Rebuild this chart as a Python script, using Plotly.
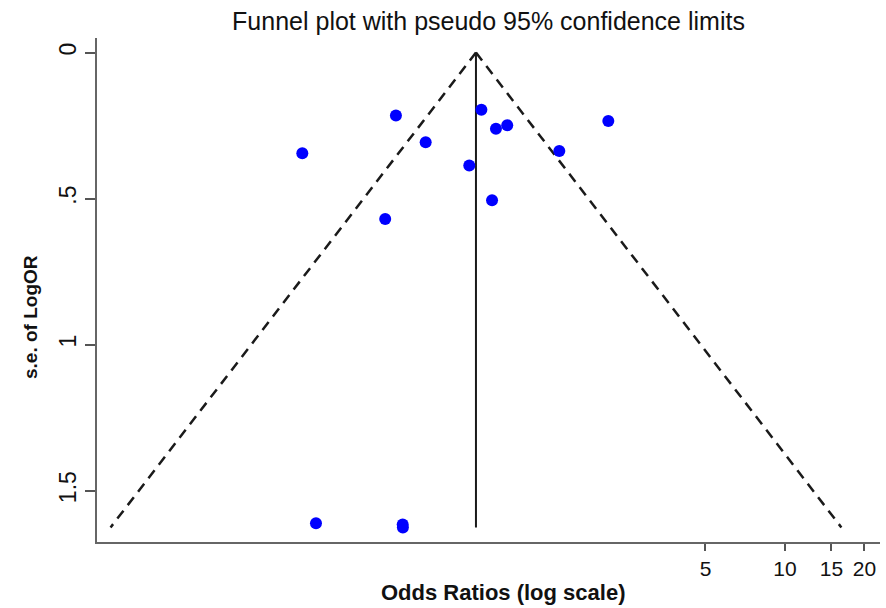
import numpy as np
import plotly.graph_objects as go

# Study estimates (odds ratios) and standard errors of log OR
odds_ratios = [0.1485, 0.336, 0.4355, 0.637, 0.708, 0.804, 0.887, 0.777, 1.397, 2.142, 0.306, 0.1673, 0.3564, 0.357]
se_logor = [0.3445, 0.2158, 0.3068, 0.387, 0.196, 0.261, 0.2486, 0.5055, 0.3366, 0.2339, 0.5695, 1.612, 1.616, 1.626]
pooled_or = 0.6753
x_tick_vals = [5, 10, 15, 20]
x_tick_text = ["5", "10", "15", "20"]
y_tick_vals = [0, 0.5, 1, 1.5]
y_tick_text = ["0", ".5", "1", "1.5"]

se_max = max(se_logor)
se_line = [0.0, se_max]
lower = [pooled_or * np.exp(-1.96 * s) for s in se_line]
upper = [pooled_or * np.exp(1.96 * s) for s in se_line]

FONT = "Liberation Sans, Arial, sans-serif"
fig = go.Figure()
fig.add_trace(go.Scatter(x=lower, y=se_line, mode="lines",
                         line=dict(color="#1a1a1a", width=2.5, dash="10px,7px"),
                         hoverinfo="skip", showlegend=False))
fig.add_trace(go.Scatter(x=upper, y=se_line, mode="lines",
                         line=dict(color="#1a1a1a", width=2.5, dash="10px,7px"),
                         hoverinfo="skip", showlegend=False))
fig.add_trace(go.Scatter(x=[pooled_or, pooled_or], y=se_line, mode="lines",
                         line=dict(color="#1a1a1a", width=2),
                         hoverinfo="skip", showlegend=False))
fig.add_trace(go.Scatter(x=odds_ratios, y=se_logor, mode="markers",
                         marker=dict(color="#0000ff", size=12),
                         showlegend=False))

fig.update_layout(
    width=886, height=608,
    margin=dict(l=97, r=6, t=38, b=66, autoexpand=False),
    paper_bgcolor="white", plot_bgcolor="white",
    font=dict(family=FONT, color="#111111"),
    title=dict(text="Funnel plot with pseudo 95% confidence limits",
               x=0.5, xanchor="center", xref="paper",
               y=1 - 21 / 608, yanchor="middle", yref="container",
               automargin=False,
               font=dict(size=25, family=FONT, color="#111111")),
    showlegend=False,
)
fig.update_xaxes(type="log", range=[-1.606, 1.360], automargin=False,
                 tickvals=x_tick_vals, ticktext=x_tick_text,
                 showgrid=False, zeroline=False,
                 showline=True, linecolor="#666666", linewidth=2,
                 ticks="outside", ticklen=7, tickwidth=2, tickcolor="#555555",
                 tickfont=dict(size=21, family=FONT, color="#111111"))
fig.update_yaxes(range=[1.676, -0.050], automargin=False,
                 tickvals=y_tick_vals, ticktext=y_tick_text, tickangle=-90,
                 showgrid=False, zeroline=False,
                 showline=True, linecolor="#666666", linewidth=2,
                 ticks="outside", ticklen=10, tickwidth=2, tickcolor="#555555",
                 tickfont=dict(size=23, family=FONT, color="#111111"))

fig.add_annotation(text="<b>Odds Ratios (log scale)</b>", xref="paper", yref="paper",
                   x=(503 - 97) / 783, y=0, yshift=-50, xanchor="center", yanchor="middle",
                   showarrow=False, font=dict(size=22, family=FONT, color="#111111"))
fig.add_annotation(text="<b>s.e. of LogOR</b>", xref="paper", yref="paper",
                   x=0, xshift=-67, y=(542 - 317) / 504, xanchor="center", yanchor="middle",
                   textangle=-90, showarrow=False,
                   font=dict(size=19, family=FONT, color="#111111"))

fig.write_html("out.html", config={"displayModeBar": False},
               post_script="document.body.style.margin='0';document.body.style.padding='0';")
